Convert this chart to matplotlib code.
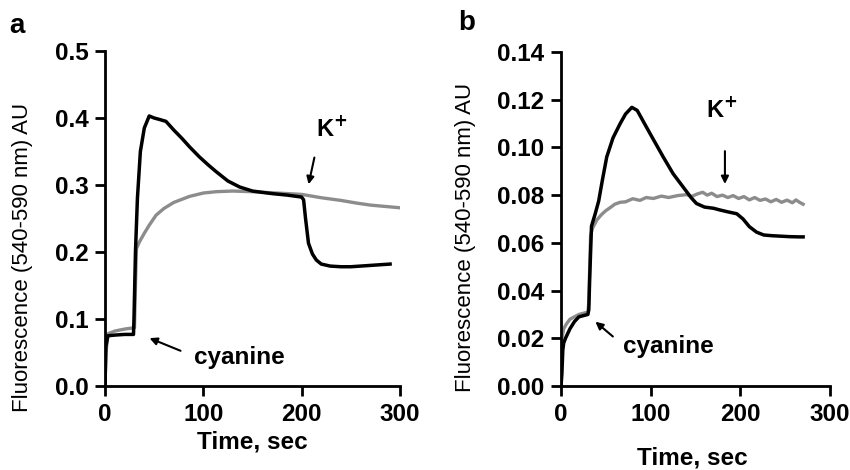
# Fluorescence traces, panels a and b
import matplotlib
matplotlib.use("Agg")
import matplotlib.pyplot as plt

plt.rcParams['font.family'] = ['Liberation Sans', 'DejaVu Sans']

# panel a
ta_black = [0, 1, 3, 10, 20, 29, 29.5, 31, 33, 36, 40, 45, 50, 55, 62, 70, 78, 86, 96, 105, 113, 125, 137, 150, 160,
            171, 185, 195, 200, 202, 204, 207, 211, 215, 220, 229, 240, 250, 260, 270, 280, 290]
ya_black = [0.0, 0.06, 0.075, 0.076, 0.077, 0.077, 0.10, 0.2, 0.28, 0.35, 0.385, 0.403, 0.400, 0.398, 0.395, 0.382,
            0.370, 0.357, 0.342, 0.330, 0.320, 0.306, 0.297, 0.291, 0.289, 0.287, 0.285, 0.283, 0.282, 0.278, 0.25,
            0.213, 0.197, 0.188, 0.182, 0.179, 0.178, 0.178, 0.179, 0.180, 0.181, 0.182]
ta_gray = [0, 1, 3, 10, 20, 30, 31, 32, 35, 40, 45, 52, 60, 70, 86, 100, 113, 130, 150, 175, 200, 220, 240, 256,
           270, 285, 300]
ya_gray = [0.0, 0.05, 0.078, 0.082, 0.085, 0.087, 0.15, 0.205, 0.215, 0.228, 0.24, 0.255, 0.265, 0.274, 0.283,
           0.288, 0.290, 0.291, 0.290, 0.288, 0.286, 0.281, 0.277, 0.273, 0.270, 0.268, 0.266]

# panel b
tb_black = [0, 1, 2, 3, 5, 10, 15, 20, 25, 30, 31, 32, 34, 38, 42, 46, 51, 58, 66, 72, 79, 85, 95, 105, 114, 125,
            136, 145, 151, 160, 170, 177, 186, 196, 203, 210, 218, 226, 235, 245, 255, 266, 270]
yb_black = [0, 0.005, 0.015, 0.018, 0.020, 0.024, 0.027, 0.029, 0.0295, 0.030, 0.032, 0.045, 0.067, 0.072, 0.0775,
            0.086, 0.096, 0.104, 0.110, 0.114, 0.1168, 0.1155, 0.1087, 0.102, 0.096, 0.089, 0.0835, 0.079, 0.0765,
            0.075, 0.0745, 0.0738, 0.073, 0.0722, 0.070, 0.0668, 0.0645, 0.0633, 0.063, 0.0628, 0.0626, 0.0625,
            0.0625]
tb_gray = [0, 1, 3, 6, 10, 20, 30, 31, 32, 33, 35, 40, 45, 50, 55, 60, 66, 72, 80, 88, 95, 103, 112, 120, 130, 140,
           146, 152, 158, 163, 168, 174, 180, 186, 192, 198, 204, 210, 216, 222, 228, 234, 240, 246, 252, 258,
           262, 266, 270]
yb_gray = [0.0, 0.02, 0.024, 0.026, 0.028, 0.030, 0.031, 0.035, 0.05, 0.063, 0.066, 0.0696, 0.0718, 0.0735,
           0.0748, 0.0762, 0.0770, 0.0772, 0.0785, 0.0778, 0.0790, 0.0786, 0.0796, 0.0790, 0.0798, 0.0802,
           0.0795, 0.0805, 0.0812, 0.0800, 0.0808, 0.0794, 0.0800, 0.0790, 0.0798, 0.0786, 0.0794, 0.0780,
           0.0790, 0.0778, 0.0784, 0.0772, 0.0782, 0.0770, 0.0779, 0.0768, 0.0780, 0.0770, 0.0762]

xticks = [0, 100, 200, 300]
yticks_a = [0.0, 0.1, 0.2, 0.3, 0.4, 0.5]
yticks_b = [0.00, 0.02, 0.04, 0.06, 0.08, 0.10, 0.12, 0.14]

fig = plt.figure(figsize=(8.5, 4.7), dpi=100)
ax1 = fig.add_axes([0.1235, 0.1787, 0.347, 0.7128])
ax2 = fig.add_axes([0.66, 0.1787, 0.3165, 0.7107])

gray = '#8c8c8c'
for ax, tg, yg, tb, yb in [(ax1, ta_gray, ya_gray, ta_black, ya_black),
                           (ax2, tb_gray, yb_gray, tb_black, yb_black)]:
    ax.plot(tg, yg, color=gray, lw=2.4)
    ax.plot(tb, yb, color='black', lw=2.5)
    ax.spines['top'].set_visible(False)
    ax.spines['right'].set_visible(False)
    ax.spines['left'].set_linewidth(2)
    ax.spines['bottom'].set_linewidth(2)
    ax.tick_params(width=2, length=7, labelsize=17.5, pad=5)
    ax.set_xlim(0, 300)
    ax.set_xticks(xticks)

ax1.set_ylim(0, 0.5)
ax1.set_yticks(yticks_a)
ax1.set_yticklabels([f"{v:.1f}" for v in yticks_a], fontweight='bold')
ax2.set_ylim(0, 0.14)
ax2.set_yticks(yticks_b)
ax2.set_yticklabels([f"{v:.2f}" for v in yticks_b], fontweight='bold')
for ax in (ax1, ax2):
    ax.set_xticklabels([str(v) for v in xticks], fontweight='bold')

# annotations
arrow = dict(arrowstyle='-|>', color='black', lw=1.5, mutation_scale=11)
ax1.annotate('', xy=(206.5, 0.297), xytext=(213.6, 0.345), arrowprops=arrow)
ax1.text(231, 0.385, r'K$^{\mathbf{+}}$', fontsize=17, fontweight='bold', ha='center', va='center')
ax1.annotate('', xy=(42.7, 0.073), xytext=(79.5, 0.051), arrowprops=arrow)
ax1.text(137, 0.043, 'cyanine', fontsize=17.5, fontweight='bold', ha='center', va='center')

ax2.annotate('', xy=(182.8, 0.0835), xytext=(182.8, 0.0996), arrowprops=arrow)
ax2.text(179, 0.1159, r'K$^{\mathbf{+}}$', fontsize=17, fontweight='bold', ha='center', va='center')
ax2.annotate('', xy=(36, 0.0277), xytext=(60.2, 0.020), arrowprops=arrow)
ax2.text(120, 0.0164, 'cyanine', fontsize=17.5, fontweight='bold', ha='center', va='center')

# axis labels and panel letters
fig.text(23 / 850, 1 - 257 / 470, 'Fluorescence (540-590 nm) AU', rotation=90, fontsize=16,
         ha='center', va='center')
fig.text(466 / 850, 1 - 237 / 470, 'Fluorescence (540-590 nm) AU', rotation=90, fontsize=16,
         ha='center', va='center')
fig.text(252 / 850, 1 - 442 / 470, 'Time, sec', fontsize=17.5, fontweight='bold', ha='center', va='center')
fig.text(692 / 850, 1 - 458 / 470, 'Time, sec', fontsize=17.5, fontweight='bold', ha='center', va='center')
fig.text(17 / 850, 1 - 26 / 470, 'a', fontsize=20, fontweight='bold', ha='center', va='center')
fig.text(467 / 850, 1 - 23 / 470, 'b', fontsize=20, fontweight='bold', ha='center', va='center')

fig.savefig('out.png', dpi=100)
